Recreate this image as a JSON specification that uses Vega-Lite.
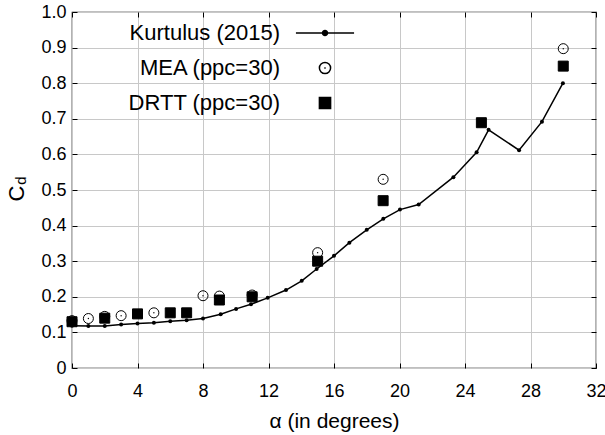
{
  "$schema": "https://vega.github.io/schema/vega-lite/v6.json",
  "width": 524,
  "height": 356,
  "autosize": {"type": "none"},
  "padding": {"left": 72, "top": 12, "right": 9, "bottom": 67},
  "background": "white",
  "config": {
    "font": "Liberation Sans",
    "view": {"stroke": "black", "strokeWidth": 1.2},
    "axis": {
      "domain": false,
      "grid": false,
      "ticks": true,
      "tickColor": "black",
      "tickSize": -5,
      "tickWidth": 1,
      "labelColor": "black",
      "titleColor": "black",
      "labelFont": "Liberation Sans",
      "titleFont": "Liberation Sans",
      "titleFontWeight": "normal",
      "gridColor": "#c8c8c8",
      "gridWidth": 1
    },
    "legend": {
      "orient": "none", "legendX": 242, "legendY": 10,
      "labelFontSize": 22, "labelAlign": "right",
      "labelOffset": -56, "labelLimit": 400, "symbolSize": 125,
      "rowPadding": 13, "padding": 0, "labelColor": "black",
      "labelFont": "Liberation Sans", "symbolStrokeWidth": 1.5, "symbolOpacity": 1
    }
  },
  "data": {
    "values": [
      {"series": "Kurtulus (2015)", "alpha": 0, "cd": 0.119},
      {"series": "Kurtulus (2015)", "alpha": 1, "cd": 0.118},
      {"series": "Kurtulus (2015)", "alpha": 2, "cd": 0.118},
      {"series": "Kurtulus (2015)", "alpha": 3, "cd": 0.122},
      {"series": "Kurtulus (2015)", "alpha": 4, "cd": 0.125},
      {"series": "Kurtulus (2015)", "alpha": 5, "cd": 0.127},
      {"series": "Kurtulus (2015)", "alpha": 6, "cd": 0.131},
      {"series": "Kurtulus (2015)", "alpha": 7, "cd": 0.134},
      {"series": "Kurtulus (2015)", "alpha": 8, "cd": 0.139},
      {"series": "Kurtulus (2015)", "alpha": 9.08, "cd": 0.151},
      {"series": "Kurtulus (2015)", "alpha": 10.02, "cd": 0.166},
      {"series": "Kurtulus (2015)", "alpha": 10.93, "cd": 0.179},
      {"series": "Kurtulus (2015)", "alpha": 11.95, "cd": 0.197},
      {"series": "Kurtulus (2015)", "alpha": 13.07, "cd": 0.219},
      {"series": "Kurtulus (2015)", "alpha": 14.03, "cd": 0.245},
      {"series": "Kurtulus (2015)", "alpha": 14.94, "cd": 0.278},
      {"series": "Kurtulus (2015)", "alpha": 16.0, "cd": 0.315},
      {"series": "Kurtulus (2015)", "alpha": 16.94, "cd": 0.352},
      {"series": "Kurtulus (2015)", "alpha": 18.0, "cd": 0.388},
      {"series": "Kurtulus (2015)", "alpha": 19.01, "cd": 0.419},
      {"series": "Kurtulus (2015)", "alpha": 20.03, "cd": 0.445},
      {"series": "Kurtulus (2015)", "alpha": 21.17, "cd": 0.459},
      {"series": "Kurtulus (2015)", "alpha": 23.29, "cd": 0.536},
      {"series": "Kurtulus (2015)", "alpha": 24.71, "cd": 0.606},
      {"series": "Kurtulus (2015)", "alpha": 25.44, "cd": 0.669},
      {"series": "Kurtulus (2015)", "alpha": 27.3, "cd": 0.612},
      {"series": "Kurtulus (2015)", "alpha": 28.7, "cd": 0.692},
      {"series": "Kurtulus (2015)", "alpha": 29.98, "cd": 0.8},
      {"series": "MEA (ppc=30)", "alpha": 0, "cd": 0.133},
      {"series": "MEA (ppc=30)", "alpha": 1, "cd": 0.139},
      {"series": "MEA (ppc=30)", "alpha": 2, "cd": 0.145},
      {"series": "MEA (ppc=30)", "alpha": 3, "cd": 0.147},
      {"series": "MEA (ppc=30)", "alpha": 5, "cd": 0.155},
      {"series": "MEA (ppc=30)", "alpha": 8, "cd": 0.203},
      {"series": "MEA (ppc=30)", "alpha": 9, "cd": 0.202},
      {"series": "MEA (ppc=30)", "alpha": 11, "cd": 0.205},
      {"series": "MEA (ppc=30)", "alpha": 15, "cd": 0.324},
      {"series": "MEA (ppc=30)", "alpha": 19, "cd": 0.53},
      {"series": "MEA (ppc=30)", "alpha": 30, "cd": 0.897},
      {"series": "DRTT (ppc=30)", "alpha": 0, "cd": 0.13},
      {"series": "DRTT (ppc=30)", "alpha": 2, "cd": 0.14},
      {"series": "DRTT (ppc=30)", "alpha": 4, "cd": 0.152},
      {"series": "DRTT (ppc=30)", "alpha": 6, "cd": 0.155},
      {"series": "DRTT (ppc=30)", "alpha": 7, "cd": 0.155},
      {"series": "DRTT (ppc=30)", "alpha": 9, "cd": 0.191},
      {"series": "DRTT (ppc=30)", "alpha": 11, "cd": 0.2},
      {"series": "DRTT (ppc=30)", "alpha": 15, "cd": 0.3},
      {"series": "DRTT (ppc=30)", "alpha": 19, "cd": 0.47},
      {"series": "DRTT (ppc=30)", "alpha": 25, "cd": 0.689},
      {"series": "DRTT (ppc=30)", "alpha": 30, "cd": 0.848}
    ]
  },
  "resolve": {"axis": {"x": "independent", "y": "independent"}},
  "layer": [
    {
      "transform": [{"filter": "datum.series === 'Kurtulus (2015)'"}],
      "mark": {"type": "line", "color": "black", "strokeWidth": 1.5},
      "encoding": {
        "x": {
          "field": "alpha", "type": "quantitative",
          "scale": {"domain": [0, 32], "nice": false, "zero": false},
          "axis": {
            "orient": "bottom", "values": [0, 4, 8, 12, 16, 20, 24, 28, 32],
            "grid": true, "labelFontSize": 18, "labelPadding": 19,
            "labelFlush": false,
            "title": "α (in degrees)", "titleFontSize": 21,
            "titleBaseline": "middle", "titleY": 53
          }
        },
        "y": {
          "field": "cd", "type": "quantitative",
          "scale": {"domain": [0, 1], "nice": false},
          "axis": {
            "orient": "left",
            "values": [0, 0.1, 0.2, 0.3, 0.4, 0.5, 0.6, 0.7, 0.8, 0.9, 1.0],
            "grid": true, "labelFontSize": 18, "labelPadding": 11,
            "labelFlush": false,
            "labelExpr": "datum.value == 0 ? '0' : format(datum.value, '.1f')",
            "title": "C", "titleFontSize": 22, "titleAngle": -90,
            "titleX": -55.5, "titleY": 181, "titleBaseline": "middle", "titleAlign": "center"
          }
        }
      }
    },
    {
      "transform": [{"filter": "datum.series === 'Kurtulus (2015)'"}],
      "mark": {"type": "point", "filled": true, "color": "black", "size": 16, "opacity": 1},
      "encoding": {
        "x": {"field": "alpha", "type": "quantitative", "axis": null},
        "y": {"field": "cd", "type": "quantitative", "axis": null}
      }
    },
    {
      "transform": [{"filter": "datum.series === 'MEA (ppc=30)'"}],
      "mark": {"type": "point", "shape": "circle", "filled": false, "color": "black", "size": 100, "strokeWidth": 1, "opacity": 1},
      "encoding": {
        "x": {"field": "alpha", "type": "quantitative", "axis": null},
        "y": {"field": "cd", "type": "quantitative", "axis": null}
      }
    },
    {
      "transform": [{"filter": "datum.series === 'MEA (ppc=30)'"}],
      "mark": {"type": "point", "shape": "circle", "filled": true, "color": "black", "size": 2, "opacity": 1},
      "encoding": {
        "x": {"field": "alpha", "type": "quantitative", "axis": null},
        "y": {"field": "cd", "type": "quantitative", "axis": null}
      }
    },
    {
      "transform": [{"filter": "datum.series === 'DRTT (ppc=30)'"}],
      "mark": {"type": "point", "size": 100, "strokeWidth": 1, "opacity": 1},
      "encoding": {
        "x": {"field": "alpha", "type": "quantitative", "axis": null},
        "y": {"field": "cd", "type": "quantitative", "axis": null},
        "shape": {
          "field": "series", "type": "nominal",
          "scale": {
            "domain": ["Kurtulus (2015)", "MEA (ppc=30)", "DRTT (ppc=30)"],
            "range": ["M-5.2,0L5.2,0M0.45,0A0.45,0.45,0,1,1,-0.45,0A0.45,0.45,0,1,1,0.45,0Z", "M1,0A1,1,0,1,1,-1,0A1,1,0,1,1,1,0ZM-0.1,0L0.1,0M0,-0.1L0,0.1", "square"]
          },
          "legend": {"title": null}
        },
        "fill": {
          "field": "series", "type": "nominal",
          "scale": {
            "domain": ["Kurtulus (2015)", "MEA (ppc=30)", "DRTT (ppc=30)"],
            "range": ["black", "transparent", "black"]
          },
          "legend": {"title": null}
        },
        "stroke": {
          "field": "series", "type": "nominal",
          "scale": {
            "domain": ["Kurtulus (2015)", "MEA (ppc=30)", "DRTT (ppc=30)"],
            "range": ["black", "black", "black"]
          },
          "legend": {"title": null}
        }
      }
    },
    {
      "transform": [{"filter": "datum.series === 'Kurtulus (2015)'"}],
      "mark": {"type": "point", "opacity": 0},
      "encoding": {
        "x": {
          "field": "alpha", "type": "quantitative",
          "axis": {"orient": "top", "values": [0, 4, 8, 12, 16, 20, 24, 28, 32], "labels": false, "grid": false, "title": null}
        },
        "y": {
          "field": "cd", "type": "quantitative",
          "axis": {"orient": "right", "values": [0, 0.1, 0.2, 0.3, 0.4, 0.5, 0.6, 0.7, 0.8, 0.9, 1.0], "labels": false, "grid": false, "title": null}
        }
      }
    },
    {
      "transform": [{"filter": "datum.series === 'Kurtulus (2015)'"}],
      "mark": {"type": "point", "opacity": 0},
      "encoding": {
        "x": {"field": "alpha", "type": "quantitative", "axis": null},
        "y": {
          "field": "cd", "type": "quantitative",
          "axis": {
            "orient": "left", "labels": false, "ticks": false, "grid": false,
            "title": "d", "titleFontSize": 15, "titleAngle": -90,
            "titleX": -51.5, "titleY": 168, "titleBaseline": "middle", "titleAlign": "center"
          }
        }
      }
    }
  ]
}
